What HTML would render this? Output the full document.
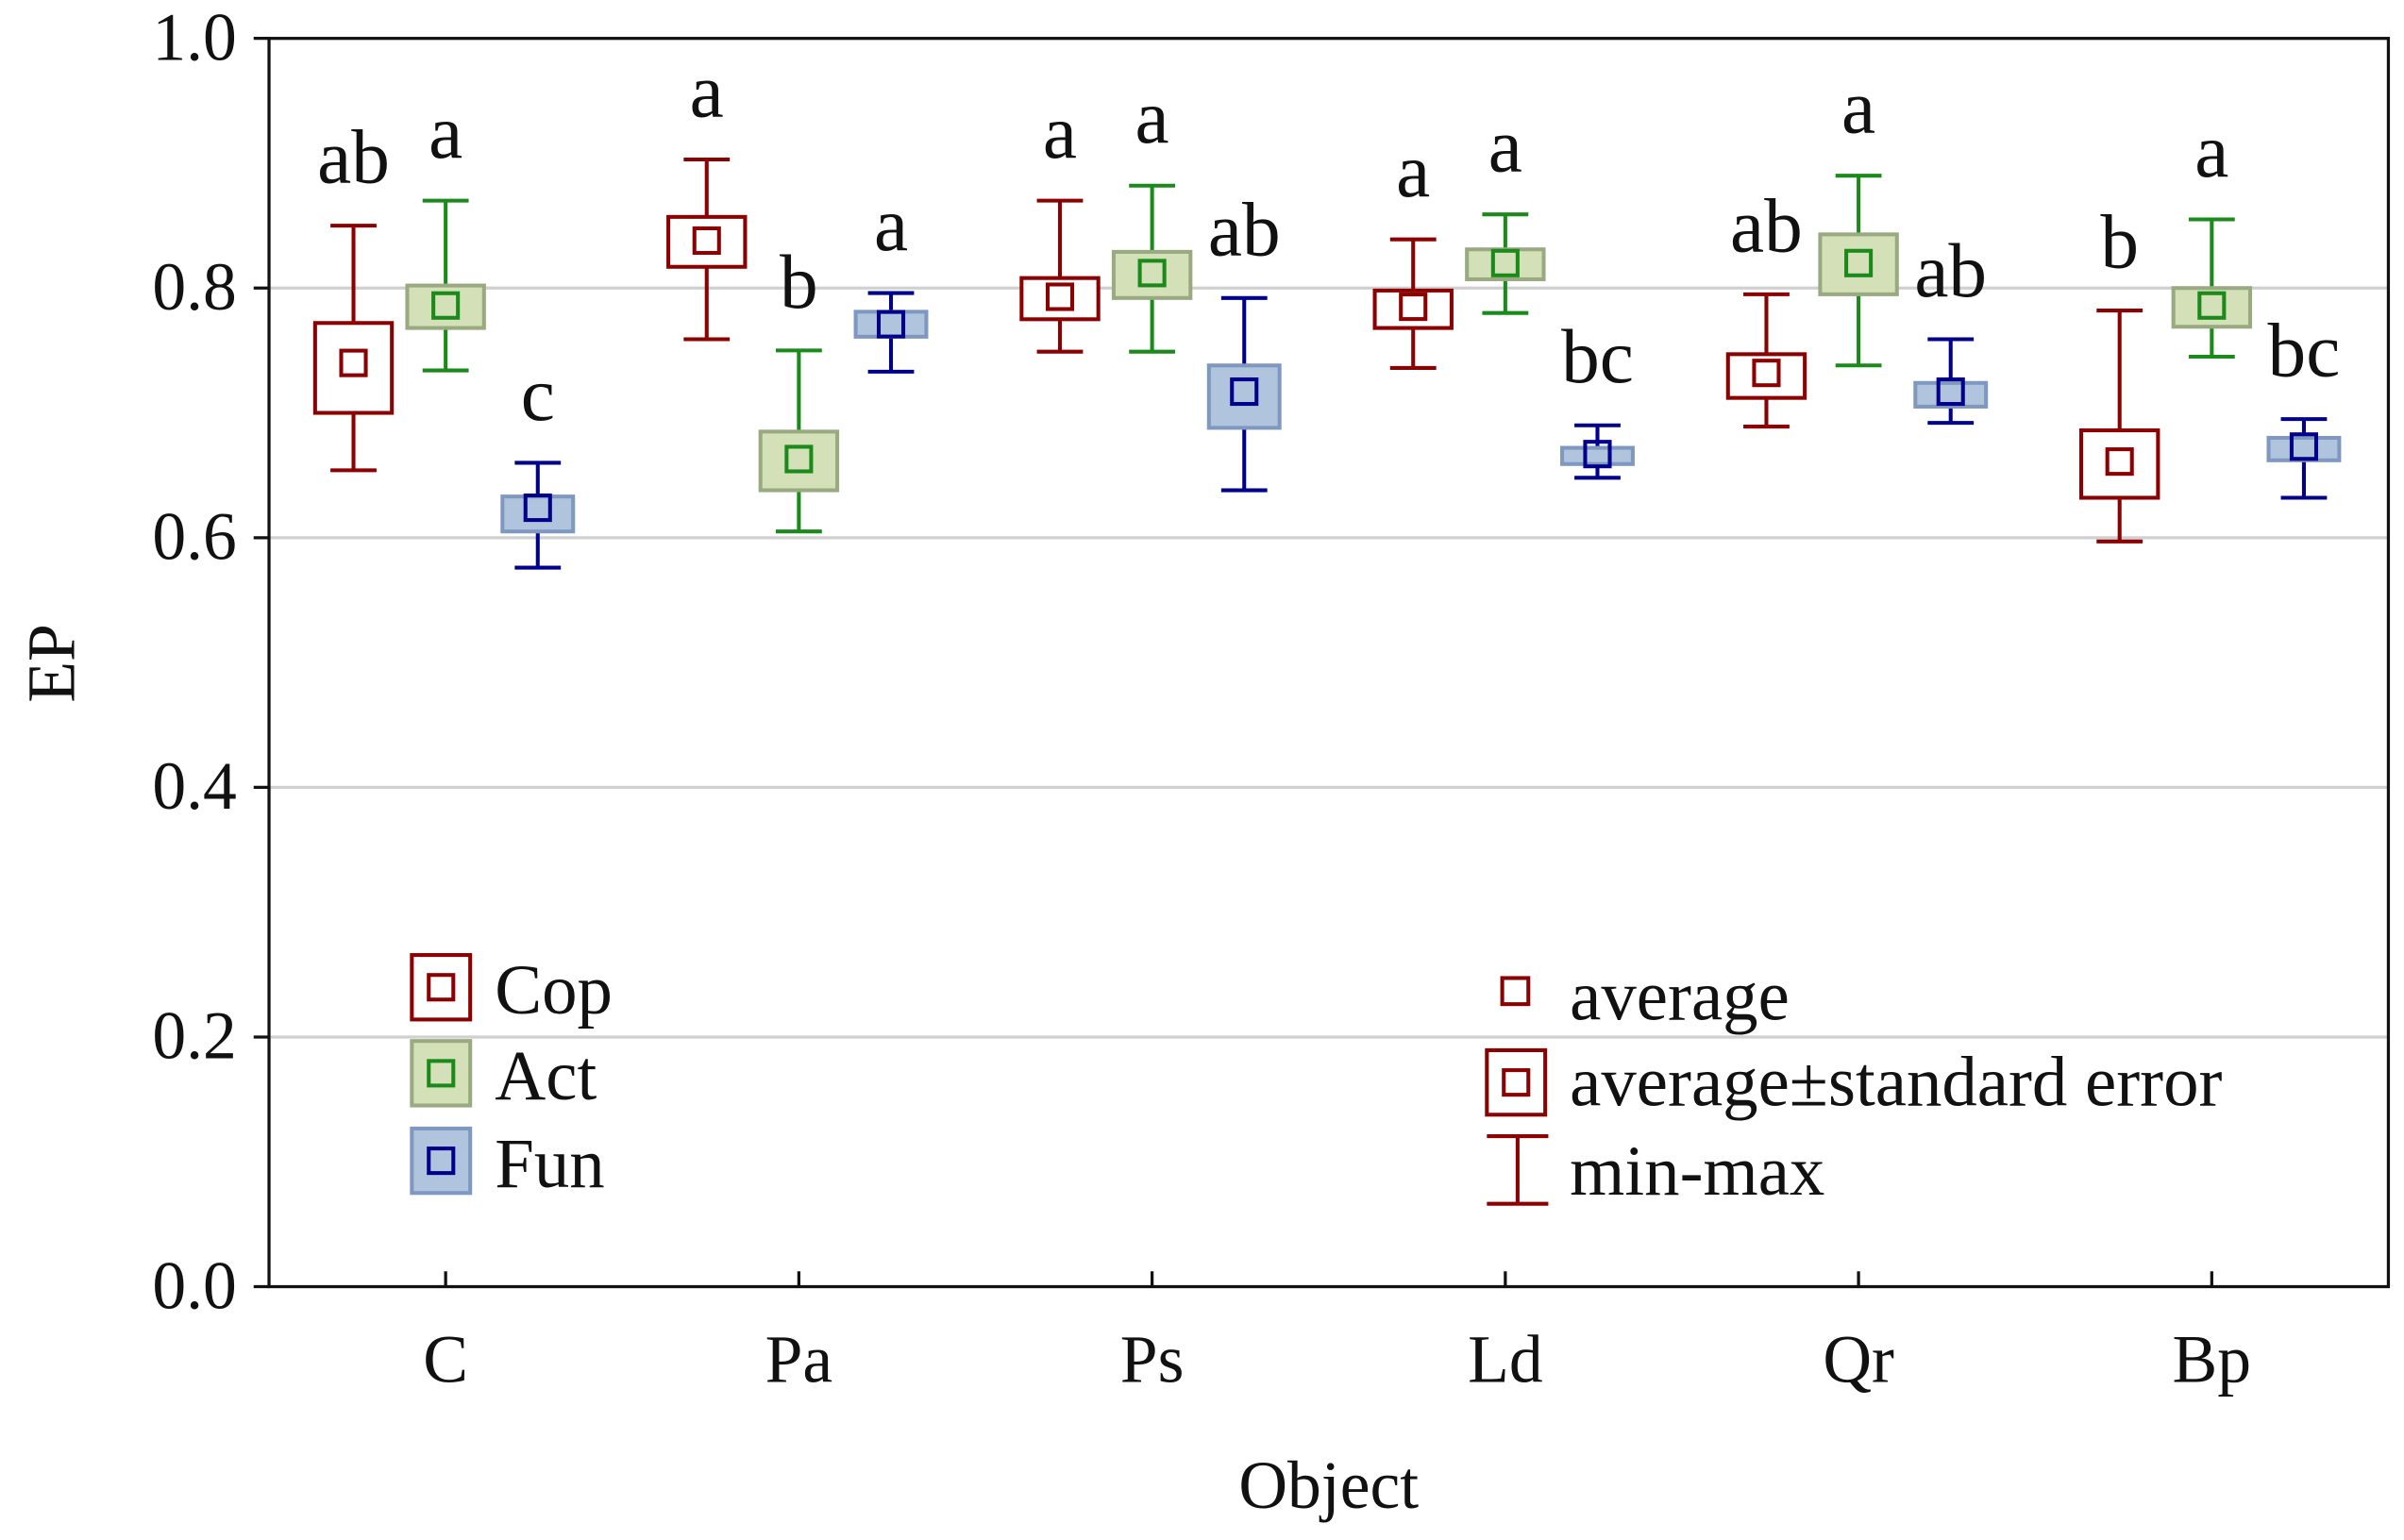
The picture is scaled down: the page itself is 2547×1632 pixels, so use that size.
<!DOCTYPE html>
<html><head><meta charset="utf-8"><style>
html,body{margin:0;padding:0;background:#fff}
svg{display:block}
text{font-family:"Liberation Serif",serif;fill:#111}
</style></head><body>
<svg id="chart" width="2547" height="1632" viewBox="0 0 1565 1003" xmlns="http://www.w3.org/2000/svg">
<g id="grid"></g>
<rect x="175" y="25" width="1380" height="813" fill="none" stroke="#111" stroke-width="2"/>
<g id="axes"></g>
<g id="marks"></g>
<g id="letters"></g>
<text x="865" y="982" font-size="44" text-anchor="middle">Object</text>
<text transform="translate(48,432) rotate(-90)" font-size="44" text-anchor="middle">EP</text>
<g>
 <g>
  <rect x="268" y="622" width="38" height="42" fill="#fff" stroke="#8b0000" stroke-width="2.5"/>
  <rect x="279" y="635" width="16" height="16" fill="none" stroke="#8b0000" stroke-width="2.5"/>
  <text x="322" y="660" font-size="46">Cop</text></g>
 <g>
  <rect x="268" y="678" width="38" height="42" fill="#d4e0b8" stroke="#9aaa80" stroke-width="2.5"/>
  <rect x="279" y="691" width="16" height="16" fill="none" stroke="#1a8a1a" stroke-width="2.5"/>
  <text x="322" y="716" font-size="46">Act</text></g>
 <g>
  <rect x="268" y="735" width="38" height="42" fill="#b0c4de" stroke="#7f98bf" stroke-width="2.5"/>
  <rect x="279" y="748" width="16" height="16" fill="none" stroke="#00008b" stroke-width="2.5"/>
  <text x="322" y="773" font-size="46">Fun</text></g>
</g>
<g>
 <rect x="978" y="637" width="17" height="17" fill="none" stroke="#8b0000" stroke-width="2.5"/>
 <text x="1022" y="664" font-size="46">average</text>
 <rect x="968" y="684" width="38" height="42" fill="#fff" stroke="#8b0000" stroke-width="2.5"/>
 <rect x="979" y="697" width="16" height="16" fill="none" stroke="#8b0000" stroke-width="2.5"/>
 <text x="1022" y="720" font-size="46">average±standard error</text>
 <path d="M968 740H1008M988 740V784M968 784H1008" stroke="#8b0000" stroke-width="2.5" fill="none"/>
 <text x="1022" y="778" font-size="46">min-max</text>
</g>
</svg>
<script>
const categories=["C","Pa","Ps","Ld","Qr","Bp"];
const seriesNames=["Cop","Act","Fun"];
const copMean=[0.740,0.838,0.793,0.785,0.732,0.661];
const copSeLo=[0.700,0.817,0.775,0.768,0.712,0.632];
const copSeHi=[0.772,0.857,0.808,0.798,0.747,0.686];
const copMin=[0.654,0.759,0.749,0.736,0.689,0.597];
const copMax=[0.850,0.903,0.870,0.839,0.795,0.782];
const actMean=[0.786,0.663,0.812,0.820,0.820,0.786];
const actSeLo=[0.768,0.638,0.792,0.807,0.795,0.769];
const actSeHi=[0.802,0.685,0.829,0.831,0.843,0.800];
const actMin=[0.734,0.605,0.749,0.780,0.738,0.745];
const actMax=[0.870,0.750,0.882,0.859,0.890,0.855];
const funMean=[0.624,0.771,0.717,0.667,0.717,0.673];
const funSeLo=[0.605,0.761,0.688,0.659,0.705,0.662];
const funSeHi=[0.633,0.781,0.738,0.672,0.724,0.680];
const funMin=[0.576,0.733,0.638,0.648,0.692,0.632];
const funMax=[0.660,0.796,0.792,0.690,0.759,0.695];
const copLetters=["ab","a","a","a","ab","b"];
const actLetters=["a","b","a","a","a","a"];
const funLetters=["c","a","ab","bc","ab","bc"];
const yTicks=[0,0.2,0.4,0.6,0.8,1.0];
const yTickLabels=["0.0","0.2","0.4","0.6","0.8","1.0"];

const NS="http://www.w3.org/2000/svg";
const y=v=>838-v*813;
const xc=i=>290+i*230;
function mk(tag,at,parent){const e=document.createElementNS(NS,tag);for(const k in at)e.setAttribute(k,at[k]);parent.appendChild(e);return e;}
const grid=document.getElementById('grid'),axes=document.getElementById('axes'),marks=document.getElementById('marks'),letters=document.getElementById('letters');
yTicks.forEach((t,i)=>{
 if(t>0&&t<1){const g=mk('line',{x1:175,x2:1555,y1:y(t),y2:y(t),stroke:'#d0d0d0','stroke-width':2},grid);
 
 }
 const tk=mk('line',{x1:165,x2:175,y1:y(t),y2:y(t),stroke:'#111','stroke-width':2},axes);
 
 
 const l=mk('text',{x:154,y:y(t)+14,'font-size':44,'text-anchor':'end'},axes);l.textContent=yTickLabels[i];
 
 
});
categories.forEach((c,i)=>{
 const tk=mk('line',{x1:xc(i),x2:xc(i),y1:838,y2:828,stroke:'#111','stroke-width':2},axes);
 
 
 const l=mk('text',{x:xc(i),y:900,'font-size':44,'text-anchor':'middle'},axes);l.textContent=c;
 
 
});
const S=[
 {name:'cop',off:-60,w:50,mean:copMean,lo:copSeLo,hi:copSeHi,mn:copMin,mx:copMax,lt:copLetters,line:'#8b0000',fill:'#fff',bs:'#8b0000'},
 {name:'act',off:0,w:50,mean:actMean,lo:actSeLo,hi:actSeHi,mn:actMin,mx:actMax,lt:actLetters,line:'#1a8a1a',fill:'#d4e0b8',bs:'#9aaa80'},
 {name:'fun',off:60,w:46,mean:funMean,lo:funSeLo,hi:funSeHi,mn:funMin,mx:funMax,lt:funLetters,line:'#00008b',fill:'#b0c4de',bs:'#7f98bf'}];
S.forEach(s=>{
 categories.forEach((c,i)=>{
  const x=xc(i)+s.off;
  const yMx=y(s.mx[i]),yMn=y(s.mn[i]),yHi=y(s.hi[i]),yLo=y(s.lo[i]),yM=y(s.mean[i]);
  const g=mk('g',{},marks);
  
  
  mk('path',{d:`M${x} ${yMx}V${yHi}M${x} ${yLo}V${yMn}M${x-15} ${yMx}H${x+15}M${x-15} ${yMn}H${x+15}`,stroke:s.line,'stroke-width':2.5,fill:'none'},g);
  mk('rect',{x:x-s.w/2,y:yHi,width:s.w,height:yLo-yHi,fill:s.fill,stroke:s.bs,'stroke-width':2.5},g);
  mk('rect',{x:x-8,y:yM-8,width:16,height:16,fill:'none',stroke:s.line,'stroke-width':2.5},g);
  const t=mk('text',{x:x,y:yMx-28,'font-size':50,'text-anchor':'middle'},letters);
  t.textContent=s.lt[i];
  
  
 });
});
</script>
</body></html>
